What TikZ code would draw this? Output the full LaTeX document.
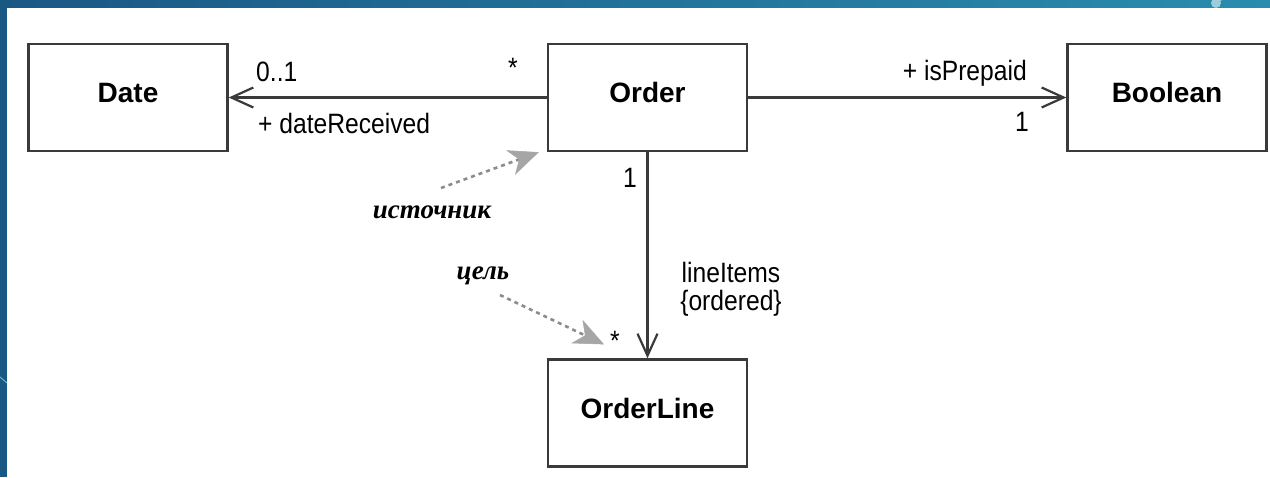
\documentclass[tikz,border=0pt]{standalone}
\usepackage{fontspec}
\setmainfont{Liberation Sans}
\newfontfamily\lblfont[FakeStretch=0.88]{Liberation Sans}
\newfontfamily\handfont{Liberation Serif}
\usetikzlibrary{arrows.meta}
\definecolor{bandL}{HTML}{1A5884}
\definecolor{bandR}{HTML}{2A8DAE}
\definecolor{edge}{HTML}{3A3A3A}
\definecolor{hint}{HTML}{A6A6A6}
\definecolor{hintdot}{HTML}{8C8C8C}
\tikzset{
  x=1pt, y=-1pt,
  cls/.style={draw=edge, line width=2.4pt, fill=white, minimum width=199pt,
    minimum height=107pt, inner sep=0pt, text height=20pt, text depth=10pt,
    font=\fontsize{28}{32}\selectfont\bfseries},
  lbl/.style={inner sep=0pt, font=\lblfont\fontsize{28}{28}\selectfont},
  hand/.style={inner sep=0pt, font=\handfont\fontsize{27}{30}\selectfont\bfseries\itshape},
  assoc/.style={draw=edge, line width=2.2pt,
    -{Straight Barb[length=22pt, width=20pt, line width=2.2pt]}},
  note/.style={draw=hintdot, line width=2.6pt, dash pattern=on 4pt off 4pt,
    -{Stealth[length=30pt, width=26pt, inset=9pt, color=hint, fill=hint, line width=0.5pt]}}
}
\begin{document}
\begin{tikzpicture}
\useasboundingbox (0,0) rectangle (1270,477);
% frame of the slide
\fill[white] (0,0) rectangle (1270,477);
\shade[left color=bandL, right color=bandR] (0,0) rectangle (1270,7);
\fill[bandL] (0,0) rectangle (7,477);
\fill[bandR!45!white] (1216,3) circle (5);
\draw[bandR!45!white, line width=0.8pt] (1219,1) -- (1226,-2);
\draw[bandR!55!white, line width=0.8pt] (0,377) -- (7,383);

% classes
\node[cls] (date)  at (128,97.5)  {Date};
\node[cls] (order) at (647.5,97.5) {Order};
\node[cls] (bool)  at (1167,97.5) {Boolean};
\node[cls] (oline) at (647.5,413) {OrderLine};

% associations
\draw[assoc] (order.west) -- (date.east);
\draw[assoc] (order.east) -- (bool.west);
\draw[assoc] (order.south) -- (oline.north);

% association end labels
\node[lbl, anchor=base west] (m01)  at (256,81)  {0..1};
\node[lbl, anchor=base]      (mst1) at (513,77)  {*};
\node[lbl, anchor=base west] (rdr)  at (258,133) {+ dateReceived};
\node[lbl, anchor=base east] (rpp)  at (1027,80) {+ isPrepaid};
\node[lbl, anchor=base east] (m1b)  at (1029,131) {1};
\node[lbl, anchor=base east] (m1o)  at (637,187) {1};
\node[lbl, anchor=base, align=center] (rli) at (731,310) {lineItems\\\{ordered\}};
\node[lbl, anchor=base]      (mst2) at (615,350) {*};

% source / target hints
\node[hand] (src) at (432,212) {источник};
\node[hand] (tgt) at (483,276) {цель};
\coordinate (srcfrom) at (441,188);
\coordinate (tgtfrom) at (500,295);
\draw[note] (srcfrom) -- ([xshift=-8pt]order.south west);
\draw[note] (tgtfrom) -- ([xshift=-6pt, yshift=-4pt]mst2.west);
\end{tikzpicture}
\end{document}
